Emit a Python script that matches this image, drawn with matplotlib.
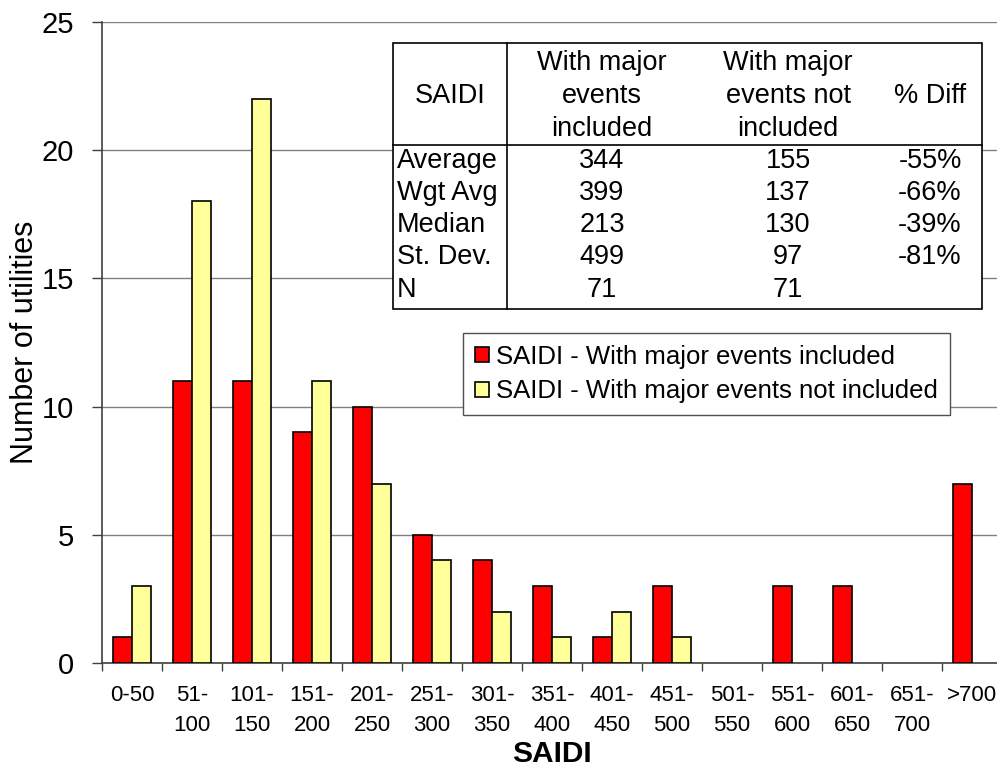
import matplotlib
matplotlib.use("Agg")
import matplotlib.pyplot as plt
import numpy as np
from matplotlib.patches import Rectangle
from matplotlib.lines import Line2D

plt.rcParams['font.family'] = ['Liberation Sans', 'DejaVu Sans']

categories = ["0-50", "51-\n100", "101-\n150", "151-\n200", "201-\n250", "251-\n300",
              "301-\n350", "351-\n400", "401-\n450", "451-\n500", "501-\n550",
              "551-\n600", "601-\n650", "651-\n700", ">700"]
with_major = [1, 11, 11, 9, 10, 5, 4, 3, 1, 3, 0, 3, 3, 0, 7]
without_major = [3, 18, 22, 11, 7, 4, 2, 1, 2, 1, 0, 0, 0, 0, 0]

series_names = ["SAIDI - With major events included",
                "SAIDI - With major events not included"]

table_header = ["SAIDI", "With major\nevents\nincluded", "With major\nevents not\nincluded", "% Diff"]
stat_labels = ["Average", "Wgt Avg", "Median", "St. Dev.", "N"]
stat_included = ["344", "399", "213", "499", "71"]
stat_excluded = ["155", "137", "130", "97", "71"]
stat_diff = ["-55%", "-66%", "-39%", "-81%", ""]

W, H = 997, 771
fig = plt.figure(figsize=(W / 100, H / 100), dpi=100)
ax = fig.add_axes([102 / W, 1 - 663 / H, 900 / W, (663 - 22) / H])

x = np.arange(len(categories))
bw = 0.31
edge_a = ["black" if v > 0 else "none" for v in with_major]
edge_b = ["black" if v > 0 else "none" for v in without_major]
ax.bar(x - bw / 2, with_major, bw, color="#FF0000", edgecolor=edge_a, linewidth=1.2, zorder=3,
       label=series_names[0])
ax.bar(x + bw / 2, without_major, bw, color="#FFFF99", edgecolor=edge_b, linewidth=1.2, zorder=3,
       label=series_names[1])

ax.set_xlim(-0.5, len(categories) - 0.5)
ax.set_ylim(0, 25)
ax.set_yticks(np.arange(0, 26, 5))
ax.yaxis.grid(True, color="#808080", linewidth=1.0, zorder=0)
ax.set_axisbelow(True)
ax.tick_params(axis="y", labelsize=21, length=7, width=1, pad=13, color="#404040")

ax.set_xticks(x)
ax.set_xticklabels(categories, fontsize=16, linespacing=1.55, va="top")
ax.tick_params(axis="x", which="major", length=0, pad=16)
ax.set_xticks(np.arange(-0.5, len(categories), 1), minor=True)
ax.tick_params(axis="x", which="minor", length=6, width=1, color="#404040")

for s in ["top", "right"]:
    ax.spines[s].set_visible(False)
for s in ["left", "bottom"]:
    ax.spines[s].set_color("#404040")
    ax.spines[s].set_linewidth(1.2)

ax.set_ylabel("Number of utilities", fontsize=22, labelpad=1)
ax.set_xlabel("SAIDI", fontsize=21.5, fontweight="bold", labelpad=3)

def fx(px):
    return px / W

def fy(py):
    return 1 - py / H

t = fig.transFigure
tl, tr, tt, tb = 393, 982, 43, 309
hdr_bottom = 145
col1 = 507
fig.patches.append(Rectangle((fx(tl), fy(tb)), fx(tr) - fx(tl), fy(tt) - fy(tb), transform=t,
                             facecolor="white", edgecolor="black", linewidth=1.2, zorder=5))
fig.lines.append(Line2D([fx(col1), fx(col1)], [fy(tt), fy(tb)], transform=t, color="black", lw=1.2, zorder=6))
fig.lines.append(Line2D([fx(tl), fx(tr)], [fy(hdr_bottom), fy(hdr_bottom)], transform=t, color="black", lw=1.2, zorder=6))

col_centers = [450, 602, 788, 930]
for cx, txt in zip(col_centers, table_header):
    fig.text(fx(cx), fy(96), txt, ha="center", va="center", fontsize=19.5, linespacing=1.35, zorder=7)

row_y = [161, 193, 225, 257, 290]
for ry, lab, a, b, d in zip(row_y, stat_labels, stat_included, stat_excluded, stat_diff):
    fig.text(fx(397), fy(ry), lab, ha="left", va="center", fontsize=19.5, zorder=7)
    fig.text(fx(col_centers[1]), fy(ry), a, ha="center", va="center", fontsize=19.5, zorder=7)
    fig.text(fx(col_centers[2]), fy(ry), b, ha="center", va="center", fontsize=19.5, zorder=7)
    fig.text(fx(col_centers[3]), fy(ry), d, ha="center", va="center", fontsize=19.5, zorder=7)

leg = ax.legend(loc="upper left", bbox_to_anchor=(fx(463), fy(333)), bbox_transform=t,
                fontsize=18.5, frameon=True, fancybox=False, framealpha=1,
                edgecolor="#505050", handlelength=0.55, handleheight=0.55, handletextpad=0.3,
                borderpad=0.45, labelspacing=0.42, borderaxespad=0)
leg.get_frame().set_linewidth(1.0)
leg.set_zorder(8)

fig.savefig("out.png", dpi=100)
